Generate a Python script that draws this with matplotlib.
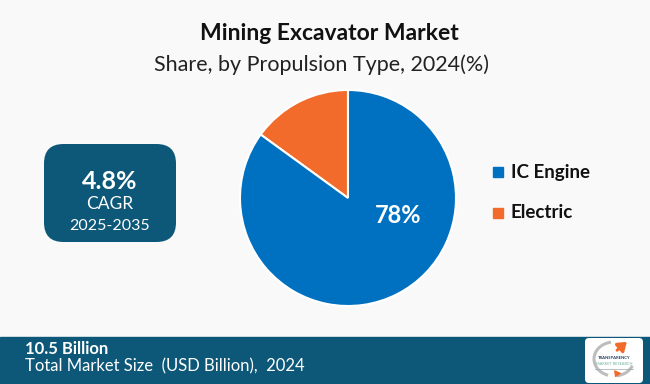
import matplotlib.pyplot as plt
from matplotlib.patches import FancyBboxPatch, Rectangle, Arc

# data
categories = ['IC Engine', 'Electric']
shares = [85, 15]
share_labels = ['78%', '']
colors = ['#0070c0', '#f26b2a']

title = 'Mining Excavator Market'
subtitle = 'Share, by Propulsion Type, 2024(%)'
cagr_value = '4.8%'
cagr_period = '2025-2035'
market_size = '10.5 Billion'
market_caption = 'Total Market Size  (USD Billion),  2024'

W, H = 650, 384
fig = plt.figure(figsize=(W / 100, H / 100), dpi=100)
fig.patch.set_facecolor('#f9f9f9')
plt.rcParams['font.family'] = ['Lato', 'DejaVu Sans']

navy = '#0d5878'

# title
fig.text(329 / W, 1 - 33 / H, title, ha='center', va='center',
         fontsize=16.5, fontweight='bold', color='#111111')
fig.text(322 / W, 1 - 65 / H, subtitle, ha='center', va='center',
         fontsize=15.5, color='#222222')

# pie
cx, cy, r = 348, 198, 108
ax = fig.add_axes([(cx - r) / W, 1 - (cy + r) / H, 2 * r / W, 2 * r / H])
ax.pie(shares[::-1], colors=colors[::-1], startangle=90, counterclock=True,
       radius=1, wedgeprops=dict(edgecolor='white', linewidth=1.5))
ax.set_xlim(-1, 1)
ax.set_ylim(-1, 1)
ax.set_aspect('equal')
ax.axis('off')
ax.text(0.46, -0.16, share_labels[0], ha='center', va='center',
        fontsize=17, fontweight='bold', color='white')

# legend
for i, (cat, col) in enumerate(zip(categories, colors)):
    y = 172 + i * 41
    fig.patches.append(Rectangle((493 / W, 1 - (y + 5) / H), 10 / W, 10 / H,
                                 transform=fig.transFigure, color=col))
    fig.text(511 / W, 1 - y / H, cat, ha='left', va='center',
             fontsize=13.5, fontweight='bold', color='#111111')

# CAGR box
box = FancyBboxPatch((44 / W, 1 - 242 / H), 132 / W, 98 / H,
                     boxstyle='round,pad=0,rounding_size=0.03',
                     transform=fig.transFigure, facecolor=navy, edgecolor='none',
                     mutation_aspect=W / H)
fig.patches.append(box)
fig.text(110 / W, 1 - 181 / H, cagr_value, ha='center', va='center',
         fontsize=18, fontweight='bold', color='white')
fig.text(110 / W, 1 - 204 / H, 'CAGR', ha='center', va='center',
         fontsize=12.5, color='white')
fig.text(110 / W, 1 - 226 / H, cagr_period, ha='center', va='center',
         fontsize=11.5, color='white')

# bottom band
fig.patches.append(Rectangle((0, 0), 1, 47 / H, transform=fig.transFigure,
                             color=navy))
fig.text(25 / W, 1 - 349 / H, market_size, ha='left', va='center',
         fontsize=12, fontweight='bold', color='white')
fig.text(25 / W, 1 - 366 / H, market_caption, ha='left', va='center',
         fontsize=12, color='white')

# logo
lax = fig.add_axes([585 / W, 1 / H, 58 / W, 45 / H], zorder=5)
lax.set_xlim(0, 58)
lax.set_ylim(0, 45)
lax.axis('off')
lax.add_patch(FancyBboxPatch((0, 0), 58, 45, boxstyle='round,pad=0,rounding_size=4',
                             facecolor='white', edgecolor='none'))
lax.add_patch(Arc((29, 24), 40, 34, theta1=100, theta2=250, color='#bdbdbd', lw=2.2))
lax.add_patch(Arc((29, 24), 40, 34, theta1=-80, theta2=-20, color='#bdbdbd', lw=2.2))
lax.annotate('', xy=(44, 43), xytext=(30, 31),
             arrowprops=dict(arrowstyle='-|>,head_length=0.5,head_width=0.35',
                             color='#f26b2a', lw=2.2))
lax.annotate('', xy=(29, 3), xytext=(33, 12),
             arrowprops=dict(arrowstyle='-|>,head_length=0.3,head_width=0.2',
                             color='#f26b2a', lw=1.2))
lax.text(29, 25, 'TRANSPARENCY', ha='center', va='center', fontsize=3.0,
         fontweight='bold', color='#1d3b5c')
lax.text(29, 19, 'MARKET RESEARCH', ha='center', va='center', fontsize=2.8,
         color='#6cb39a')
lax.plot([10, 48], [14.5, 14.5], color='#9aa8b0', lw=0.5)

fig.savefig('out.png', dpi=100, facecolor=fig.get_facecolor())
